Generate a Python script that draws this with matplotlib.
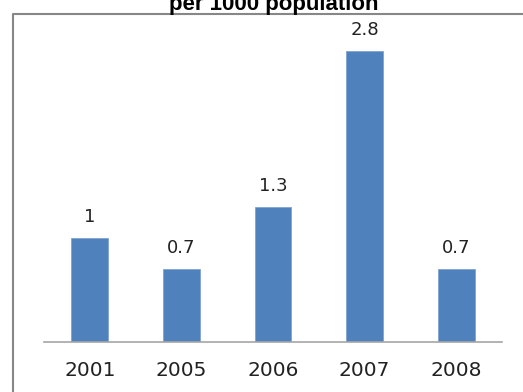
import matplotlib.pyplot as plt
from matplotlib.lines import Line2D

years = ['2001', '2005', '2006', '2007', '2008']
rates = [1, 0.7, 1.3, 2.8, 0.7]
labels = ['1', '0.7', '1.3', '2.8', '0.7']

W, H = 523, 392
fig = plt.figure(figsize=(W / 100, H / 100), dpi=100)

# outer chart border: left and top edges (runs past the right/bottom edge)
bx, by = 13 / W, 1 - 14 / H
fig.add_artist(Line2D([bx, bx, 1.05], [-0.05, by, by], transform=fig.transFigure,
                      color='#878787', linewidth=1.5))

fig.text(274 / W, 1 - 10 / H, 'per 1000 population', ha='center', va='baseline',
         fontsize=16, fontweight='bold', family='Liberation Sans', color='black')

ax = fig.add_axes([44 / W, 1 - 342 / H, 458 / W, 328 / H])
x = range(len(years))
bars = ax.bar(x, rates, width=0.4, color='#4F81BD', edgecolor='#7FA3D0', linewidth=0.6)
ax.set_xlim(-0.5, len(years) - 0.5)
ax.set_ylim(0, 328 / 104)

for b, lab in zip(bars, labels):
    ax.annotate(lab, (b.get_x() + b.get_width() / 2, b.get_height()),
                xytext=(0, 12), textcoords='offset pixels', ha='center', va='bottom',
                fontsize=13, color='#222222')

ax.set_xticks(list(x))
ax.set_xticklabels(years, fontsize=14.5, color='#222222')
ax.tick_params(axis='x', length=0, pad=14)
ax.set_yticks([])
for s in ['top', 'right', 'left']:
    ax.spines[s].set_visible(False)
ax.spines['bottom'].set_color('#A6A6A6')
ax.spines['bottom'].set_linewidth(1.2)
ax.patch.set_alpha(0)

fig.savefig('out.png', dpi=100)
